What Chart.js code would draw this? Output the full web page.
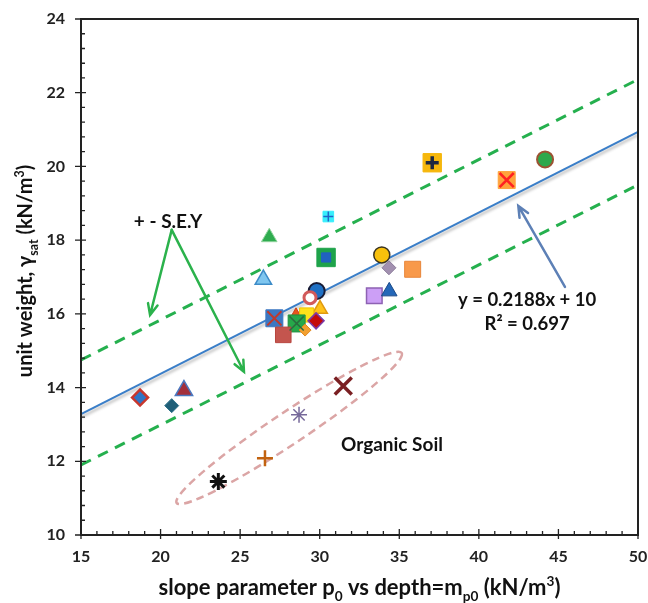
<!DOCTYPE html>
<html lang="en">
<head>
  <meta charset="UTF-8">
  <title>Unit weight vs slope parameter</title>
  <style>
    html, body { margin: 0; padding: 0; background: #fff; }
    #box { width: 648px; height: 603px; }
  </style>
</head>
<body>
  <div id="box"><canvas id="myChart"></canvas></div>
  <script src="https://cdn.jsdelivr.net/npm/chart.js"></script>
  <script>
    // soil samples: slope parameter p0 (x) vs unit weight (y)
    const soilX = [18.71, 21.47, 20.7, 26.83, 26.46, 30.54, 30.4, 37.07, 44.16, 41.75, 33.9, 34.35, 35.84,
                   29.81, 33.43, 34.37, 29.39, 30.02, 27.15, 28.51, 29.18, 28.55, 29.77, 27.71, 29.08];
    const soilY = [13.73, 13.92, 13.51, 18.08, 16.93, 18.64, 17.53, 20.1, 20.19, 19.63, 17.6, 17.25, 17.21,
                   16.62, 16.49, 16.61, 16.44, 16.13, 15.88, 15.96, 15.97, 15.74, 15.81, 15.43, 15.56];
    // organic soil samples
    const organicX = [31.48, 28.7, 26.56, 23.63];
    const organicY = [14.04, 13.26, 12.08, 11.45];
    // regression y = 0.2188x + 10 and +/- S.E.Y bands
    const trendX = [15, 50];
    const trendY = [13.28, 20.94];
    const upperY = [14.75, 22.36];
    const lowerY = [11.9, 19.5];
    const xTicks = [15, 20, 25, 30, 35, 40, 45, 50];
    const yTicks = [10, 12, 14, 16, 18, 20, 22, 24];

    const FONT = 'Lato, "Open Sans", sans-serif';
    const INK = '#222';

    // marker look for every soil point (same order as soilX / soilY)
    const soilStyle = [
      ['rectRot', 8, '#2e75c6', '#c8372d', 2.5],
      ['triangle', 10, '#a3303c', '#4a78c0', 1.5],
      ['rectRot', 7, '#1f5f78', '#2b7088', 1],
      ['triangle', 9, '#2fac4f', '#8fd39c', 1],
      ['triangle', 9.5, '#7fc6ef', '#3d8cc8', 1.5],
      ['rect', 7.5, '#37eefc', '#37eefc', 1],
      ['rect', 13, '#1ea34a', '#1ea34a', 1],
      ['rect', 13, '#f6b70c', '#f6b70c', 1],
      ['circle', 8, '#2ea84c', '#9c5232', 2],
      ['rect', 12, '#ffa33c', '#ffa33c', 1],
      ['circle', 8, '#f7c00c', '#3a3320', 1.5],
      ['rectRot', 7, '#a290b0', '#8a7a99', 1],
      ['rect', 11.3, '#f8994a', '#e8853a', 1],
      ['circle', 8, '#1f70c4', '#181c36', 2],
      ['rect', 11, '#cc9ff6', '#8d62b3', 1.5],
      ['triangle', 9, '#2467b8', '#1b4a88', 1],
      ['circle', 6, '#ffffff', '#d25a5a', 3],
      ['triangle', 8.5, '#ffc21a', '#e09a10', 1.5],
      ['rect', 12, '#3c78c2', '#3c78c2', 1],
      ['triangle', 7.5, '#e8541c', '#c8401c', 1],
      ['rect', 10, '#ffe21a', '#f0c000', 1],
      ['rect', 12, '#26a84a', '#1e8e3e', 1],
      ['rectRot', 8, '#c40a0a', '#7a3aa8', 1.5],
      ['rect', 11, '#c4554e', '#b8463f', 1],
      ['rectRot', 6, '#f2a030', '#e08820', 1]
    ];
    // marks drawn over some soil markers: [index, style, radius, colour, width]
    const overlayStyle = [
      [5, 'cross', 5, '#2364c8', 1.5],
      [6, 'rect', 6.5, '#2062bf', 1],
      [7, 'cross', 6.5, '#1d2740', 3.5],
      [9, 'crossRot', 10, '#ff2222', 2.5],
      [18, 'crossRot', 10, '#c0392b', 2],
      [21, 'crossRot', 10, '#2b6c3e', 1.5]
    ];
    const organicStyle = [
      ['crossRot', 12, '#7a1f22', 3.5],
      ['star', 8, '#76699a', 1.5],
      ['cross', 8, '#c2620f', 2.5],
      ['star', 8.5, '#111111', 3]
    ];

    const pts = (xs, ys) => xs.map((x, i) => ({ x: x, y: ys[i] }));
    const soilPts = pts(soilX, soilY);

    const datasets = [
      {
        label: 'overlay', order: 1,
        data: overlayStyle.map(o => soilPts[o[0]]),
        pointStyle: overlayStyle.map(o => o[1]),
        pointRadius: overlayStyle.map(o => o[2]),
        pointBackgroundColor: overlayStyle.map(o => o[3]),
        pointBorderColor: overlayStyle.map(o => o[3]),
        pointBorderWidth: overlayStyle.map(o => o[4])
      },
      {
        label: 'soil', order: 2,
        data: soilPts,
        pointStyle: soilStyle.map(s => s[0]),
        pointRadius: soilStyle.map(s => s[1]),
        pointBackgroundColor: soilStyle.map(s => s[2]),
        pointBorderColor: soilStyle.map(s => s[3]),
        pointBorderWidth: soilStyle.map(s => s[4])
      },
      {
        label: 'organic', order: 2,
        data: pts(organicX, organicY),
        pointStyle: organicStyle.map(s => s[0]),
        pointRadius: organicStyle.map(s => s[1]),
        pointBorderColor: organicStyle.map(s => s[2]),
        pointBorderWidth: organicStyle.map(s => s[3])
      },
      {
        label: 'trend', type: 'line', order: 5,
        data: pts(trendX, trendY),
        borderColor: '#3a7ec8', borderWidth: 2, pointRadius: 0
      },
      {
        label: 'upper', type: 'line', order: 6,
        data: pts(trendX, upperY),
        borderColor: '#25b04e', borderWidth: 3, borderDash: [11, 8], pointRadius: 0
      },
      {
        label: 'lower', type: 'line', order: 6,
        data: pts(trendX, lowerY),
        borderColor: '#25b04e', borderWidth: 3, borderDash: [11, 8], pointRadius: 0
      }
    ];

    function richWidth(ctx, parts, size) {
      let w = 0;
      parts.forEach(p => {
        ctx.font = 'bold ' + (p[1] ? size * 0.62 : size) + 'px ' + FONT;
        w += ctx.measureText(p[0]).width;
      });
      return w;
    }
    function drawRich(ctx, parts, cx, y, size) {
      let x = cx - richWidth(ctx, parts, size) / 2;
      ctx.textAlign = 'left';
      ctx.textBaseline = 'alphabetic';
      parts.forEach(p => {
        const s = p[1] ? size * 0.62 : size;
        ctx.font = 'bold ' + s + 'px ' + FONT;
        const dy = p[1] === 'sub' ? size * 0.28 : (p[1] === 'sup' ? -size * 0.4 : 0);
        ctx.fillText(p[0], x, y + dy);
        x += ctx.measureText(p[0]).width;
      });
    }
    function arrow(ctx, x1, y1, x2, y2, color, w) {
      const a = Math.atan2(y2 - y1, x2 - x1);
      ctx.strokeStyle = color;
      ctx.lineWidth = w;
      ctx.lineCap = 'round';
      ctx.beginPath();
      ctx.moveTo(x1, y1);
      ctx.lineTo(x2, y2);
      ctx.moveTo(x2 - 12 * Math.cos(a - 0.42), y2 - 12 * Math.sin(a - 0.42));
      ctx.lineTo(x2, y2);
      ctx.lineTo(x2 - 12 * Math.cos(a + 0.42), y2 - 12 * Math.sin(a + 0.42));
      ctx.stroke();
    }

    const decor = {
      id: 'decor',
      beforeDatasetDraw(chart, args) {
        if (args.meta.label === 'trend') {
          const ctx = chart.ctx;
          ctx.save();
          ctx.shadowColor = 'rgba(0,0,0,0.3)';
          ctx.shadowOffsetY = 3;
          ctx.shadowBlur = 3;
        }
      },
      afterDatasetDraw(chart, args) {
        if (args.meta.label === 'trend') chart.ctx.restore();
      },
      beforeDatasetsDraw(chart) {
        const ctx = chart.ctx, sx = chart.scales.x, sy = chart.scales.y;
        // organic soil ellipse
        const x1 = sx.getPixelForValue(21.01), y1 = sy.getPixelForValue(10.87);
        const x2 = sx.getPixelForValue(35.15), y2 = sy.getPixelForValue(14.94);
        ctx.save();
        ctx.strokeStyle = '#dba5a5';
        ctx.lineWidth = 2.5;
        ctx.setLineDash([8, 5]);
        ctx.beginPath();
        ctx.ellipse((x1 + x2) / 2, (y1 + y2) / 2, Math.hypot(x2 - x1, y2 - y1) / 2, 16,
          Math.atan2(y2 - y1, x2 - x1), 0, Math.PI * 2);
        ctx.stroke();
        ctx.restore();
      },
      afterDraw(chart) {
        const ctx = chart.ctx, sx = chart.scales.x, sy = chart.scales.y, a = chart.chartArea;
        ctx.save();
        // frame
        ctx.strokeStyle = INK;
        ctx.lineWidth = 2;
        ctx.strokeRect(a.left, a.top, a.right - a.left, a.bottom - a.top);
        // ticks: minor inside, major crossing the axis
        ctx.lineWidth = 1.3;
        ctx.beginPath();
        for (let v = 15; v <= 50; v += 1) {
          const px = sx.getPixelForValue(v), major = v % 5 === 0;
          ctx.moveTo(px, a.bottom + (major ? 4 : 0));
          ctx.lineTo(px, a.bottom - (major ? 6 : 4));
        }
        for (let k = 0; k <= 35; k++) {
          const py = sy.getPixelForValue(10 + k * 0.4), major = k % 5 === 0;
          ctx.moveTo(a.left - (major ? 6 : 0), py);
          ctx.lineTo(a.left + (major ? 5 : 4), py);
        }
        ctx.stroke();

        // annotations
        ctx.fillStyle = '#111';
        ctx.textAlign = 'center';
        ctx.textBaseline = 'middle';
        ctx.font = 'bold 19px ' + FONT;
        ctx.fillText('+ - S.E.Y', sx.getPixelForValue(20.47), sy.getPixelForValue(18.49));
        ctx.fillText('Organic Soil', sx.getPixelForValue(34.54), sy.getPixelForValue(12.44));
        ctx.font = 'bold 18.5px ' + FONT;
        ctx.fillText('y = 0.2188x + 10', sx.getPixelForValue(43.03), sy.getPixelForValue(16.38));
        ctx.fillText('R² = 0.697', sx.getPixelForValue(43.03), sy.getPixelForValue(15.73));

        const ax = sx.getPixelForValue(20.7), ay = sy.getPixelForValue(18.28);
        arrow(ctx, ax, ay, sx.getPixelForValue(19.34), sy.getPixelForValue(15.97), '#2bb24c', 2.5);
        arrow(ctx, ax, ay, sx.getPixelForValue(25.24), sy.getPixelForValue(14.43), '#2bb24c', 2.5);
        arrow(ctx, sx.getPixelForValue(45.41), sy.getPixelForValue(16.73),
          sx.getPixelForValue(42.48), sy.getPixelForValue(18.93), '#5d80b6', 2.5);

        // axis titles
        ctx.fillStyle = '#111';
        drawRich(ctx, [['slope parameter p', ''], ['0', 'sub'], [' vs depth=m', ''], ['p0', 'sub'],
          [' (kN/m', ''], ['3', 'sup'], [')', '']], (a.left + a.right) / 2, 595, 22);
        ctx.translate(26, (a.top + a.bottom) / 2 - 6);
        ctx.rotate(-Math.PI / 2);
        drawRich(ctx, [['unit weight, γ', ''], ['sat', 'sub'], [' (kN/m', ''], ['3', 'sup'], [')', '']],
          0, 6, 20);
        ctx.restore();
      }
    };

    new Chart(document.getElementById('myChart'), {
      type: 'scatter',
      data: { datasets: datasets },
      options: {
        responsive: true,
        maintainAspectRatio: false,
        animation: false,
        layout: { autoPadding: false, padding: { top: 19, right: 10, left: 0, bottom: 0 } },
        plugins: { legend: { display: false }, tooltip: { enabled: false } },
        scales: {
          x: {
            type: 'linear', min: 15, max: 50,
            afterBuildTicks: s => { s.ticks = xTicks.map(v => ({ value: v })); },
            afterFit: s => { s.height = 68; },
            ticks: { color: INK, padding: 0, font: { family: FONT, size: 16, weight: 'bold' } },
            grid: { drawOnChartArea: false, tickLength: 12, tickColor: 'rgba(0,0,0,0)' },
            border: { color: INK, width: 2 }
          },
          y: {
            type: 'linear', min: 10, max: 24,
            afterBuildTicks: s => { s.ticks = yTicks.map(v => ({ value: v })); },
            afterFit: s => { s.width = 81; },
            ticks: { color: INK, padding: 0, font: { family: FONT, size: 16, weight: 'bold' } },
            grid: { drawOnChartArea: false, tickLength: 16, tickColor: 'rgba(0,0,0,0)' },
            border: { color: INK, width: 2 }
          }
        }
      },
      plugins: [decor]
    });
  </script>
</body>
</html>
